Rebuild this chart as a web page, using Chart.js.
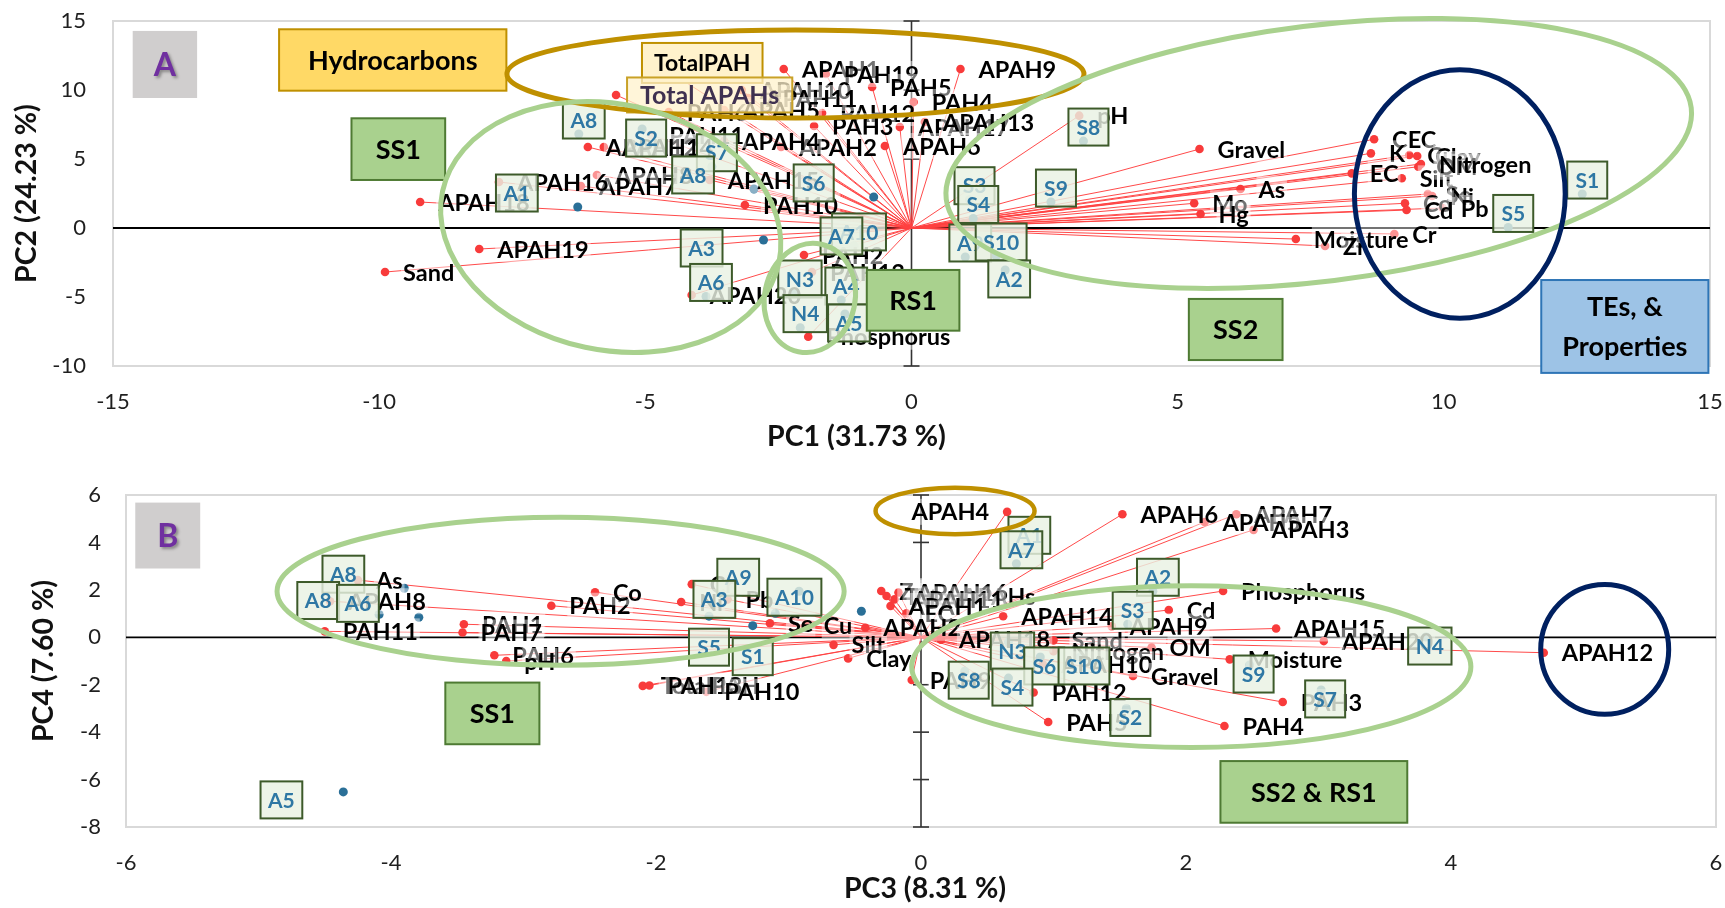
<!DOCTYPE html>
<html>
<head>
<meta charset="utf-8">
<title>PCA biplots</title>
<script src="https://cdn.jsdelivr.net/npm/chart.js@4.4.1/dist/chart.umd.min.js"></script>
<style>
    body { margin: 0; background: #fff; width: 1725px; height: 908px; overflow: hidden; position: relative; }
    .panel { position: absolute; left: 0; }
</style>
</head>
<body>
<div class="panel" style="top:0"><canvas id="pcaA" width="1725" height="450"></canvas></div>
<div class="panel" style="top:450px"><canvas id="pcaB" width="1725" height="458"></canvas></div>
<script>
// ---- Panel A : PC1 vs PC2 ----
const varNamesA = ["TotalPAH", "Total APAHs", "APAH1", "PAH19", "PAH5", "PAH4", "APAH9", "PAH12", "PAH3",
    "APAH17", "APAH13", "APAH6", "APAH2", "APAH4", "PAH11", "PAH6", "APAH12", "APAH14", "APAH8", "APAH7",
    "APAH16", "APAH18", "APAH19", "Sand", "PAH10", "APAH15", "PAH2", "APAH20", "Phosphorus", "PAH13",
    "APAH10", "APAH11", "APAH5", "pH", "Gravel", "As", "Mo", "Hg", "Moisture", "Zr", "Cr", "CEC", "K", "EC",
    "Silt", "Cu", "Clay", "OM", "Nitrogen", "Se", "Ni", "Co", "Cd", "Pb"];
const varPC1 = [-4.80, -5.55, -2.40, -1.61, -0.74, 0.04, 0.92, -1.68, -1.83,
    -0.22, 0.25, -0.50, -2.45, -3.52, -4.89, -4.56, -6.08, -5.78, -5.91, -6.21,
    -7.75, -9.23, -8.12, -9.89, -3.13, -3.79, -2.02, -4.13, -1.94, -1.87,
    -3.19, -3.07, -3.52, 3.15, 5.41, 6.18, 5.31, 5.43, 7.22, 7.77, 9.07, 8.69, 8.63, 8.27,
    9.21, 9.35, 9.50, 9.52, 9.57, 9.70, 9.78, 9.27, 9.30, 9.98];
const varPC2 = [11.96, 9.64, 11.52, 11.16, 10.22, 9.13, 11.52, 8.33, 7.39,
    7.32, 7.68, 5.94, 5.87, 6.30, 6.74, 8.41, 5.87, 5.87, 3.84, 3.04,
    3.33, 1.88, -1.52, -3.19, 1.67, 3.48, -1.96, -4.86, -7.88, -3.19,
    10.00, 9.42, 8.55, 8.14, 5.72, 2.83, 1.79, 1.01, -0.80, -1.30, -0.43, 6.43, 5.41, 3.96,
    3.60, 5.29, 5.22, 4.44, 4.64, 2.46, 2.32, 1.79, 1.30, 1.45];

const sampleNamesA = ["A1", "A8", "S2", "S7", "A8", "A3", "A6", "S6", "A4", "A5", "N3", "N4", "A10", "A7",
    "S3", "S4", "A9", "S10", "A2", "S9", "S8", "S5", "S1"];
const samplePC1 = [-6.27, -6.25, -5.06, -3.75, -2.96, -2.78, -3.86, -0.71, -1.32, -1.25, -2.19, -2.09, -1.08, -1.41,
    1.09, 1.16, 1.01, 1.59, 1.76, 2.62, 3.23, 11.21, 12.60];
const samplePC2 = [1.52, 6.81, 7.17, 4.44, 2.83, -0.87, -4.96, 2.25, -5.22, -6.23, -4.71, -7.22, -1.30, -1.59,
    2.05, 0.69, -2.10, -2.03, -3.04, 1.88, 6.30, 0.04, 2.46];
// where each sample's label box sits relative to its point (like Excel's label position)
const labelPlaceA = ["L", "T", "C", "T", "L", "LB", "T", "L", "T", "C", "T", "T", "T", "T",
    "T", "T", "T", "T", "C", "T", "T", "T", "T"];

const ticksPC1 = [-15, -10, -5, 0, 5, 10, 15];
const ticksPC2 = [-10, -5, 0, 5, 10, 15];

// ---- Panel B : PC3 vs PC4 ----
const varNamesB = ["As", "APAH8", "PAH11", "PAH1", "PAH7", "PAH6", "pH", "PAH2", "Co", "TotalPAH", "PAH13",
    "PAH10", "Cr", "Ni", "Pb", "Se", "Cu", "Silt", "Clay", "PAH9", "Zn", "Total APAHs", "APAH16", "APAH11",
    "APAH1", "EC", "APAH2", "APAH4", "APAH6", "APAH7", "APAH5", "APAH3", "Phosphorus", "Cd", "APAH9",
    "APAH14", "APAH15", "APAH20", "APAH12", "APAH18", "Sand", "Nitrogen", "OM", "APAH10", "Moisture",
    "Gravel", "PAH12", "PAH5", "PAH3", "PAH4"];
const varPC3 = [-4.25, -4.46, -4.50, -3.45, -3.46, -3.22, -3.13, -2.79, -2.46, -2.10, -2.05,
    -1.62, -1.73, -1.81, -1.46, -1.14, -0.87, -0.66, -0.55, -0.07, -0.30, -0.26, -0.17, -0.20,
    -0.23, -0.11, -0.42, 0.65, 1.52, 2.38, 2.14, 2.51, 2.28, 1.87, 1.44,
    0.62, 2.68, 3.04, 4.70, 0.15, 1.00, 1.00, 1.74, 0.92, 2.33,
    1.60, 0.85, 0.96, 2.73, 2.29];
const varPC4 = [2.41, 1.52, 0.25, 0.55, 0.20, -0.76, -1.00, 1.33, 1.90, -2.05, -2.03,
    -2.30, 2.24, 1.49, 1.60, 0.59, 0.51, -0.32, -0.89, -1.80, 1.95, 1.74, 1.89, 1.60,
    1.32, 1.01, 0.40, 5.29, 5.19, 5.19, 4.86, 4.53, 1.95, 1.15, 0.46,
    0.89, 0.37, -0.16, -0.65, -0.10, -0.13, -0.59, -0.43, -1.14, -0.93,
    -1.63, -2.33, -3.57, -2.73, -3.74];
const leftLabelsB = ["APAH4"];

const sampleNamesB = ["A8", "A8", "A6", "A5", "A9", "A3", "A10", "S5", "S1", "A1", "A7", "A2", "S3",
    "N3", "S6", "S10", "S8", "S4", "S2", "S9", "S7", "N4"];
const samplePC3 = [-3.90, -4.09, -3.79, -4.36, -0.92, -1.10, -0.45, -1.60, -1.27, 0.78, 0.72, 1.75, 1.56,
    0.66, 0.90, 1.20, 0.33, 0.66, 1.55, 2.48, 3.02, 3.81];
const samplePC4 = [2.07, 0.96, 0.84, -6.52, 1.94, 1.01, 1.10, 0.89, 0.49, 3.71, 3.10, 1.94, 0.55,
    -0.20, -0.83, -0.83, -1.43, -1.72, -3.00, -1.17, -2.22, 0.01];
const labelPlaceB = ["L", "L", "L", "LB", "L", "L", "L", "B", "B", "T", "T", "T", "T",
    "C", "C", "C", "C", "C", "C", "C", "C", "C"];

const ticksPC3 = [-6, -4, -2, 0, 2, 4, 6];
const ticksPC4 = [-8, -6, -4, -2, 0, 2, 4, 6];

// colours
const RED_PT = "#F83B3B";
const RED_LINE = "rgba(255,64,64,0.95)";
const SAMPLE_DOT = "#2A6F97";
const GOLD = "#BF9000", GREEN = "#A9D18E", NAVY = "#002060";
const FONT = "Lato";

function seg(ctx, x1, y1, x2, y2) {
    ctx.beginPath();
    ctx.moveTo(x1, y1);
    ctx.lineTo(x2, y2);
    ctx.stroke();
}

function makeBiplotPlugin(cfg) {
    return {
        id: "biplot",
        beforeDatasetsDraw(chart) {
            const {ctx, chartArea: a, scales: {x, y}} = chart;
            const x0 = x.getPixelForValue(0), y0 = y.getPixelForValue(0);
            ctx.save();
            // plot frame
            ctx.strokeStyle = "#D9D9D9";
            ctx.lineWidth = 2;
            ctx.strokeRect(a.left, a.top, a.right - a.left, a.bottom - a.top);
            // axes crossing at zero
            ctx.strokeStyle = "#000";
            ctx.lineWidth = 1.8;
            seg(ctx, a.left, y0, a.right, y0);
            ctx.strokeStyle = "#333";
            ctx.lineWidth = 1.6;
            seg(ctx, x0, a.top, x0, a.bottom);
            cfg.yTicks.forEach(v => {
                const p = y.getPixelForValue(v);
                seg(ctx, x0 - 8, p, x0 + 8, p);
            });
            // loading vectors
            ctx.strokeStyle = RED_LINE;
            ctx.lineWidth = 1;
            cfg.varX.forEach((v, i) => seg(ctx, x0, y0, x.getPixelForValue(v), y.getPixelForValue(cfg.varY[i])));
            ctx.restore();
        },
        afterDatasetsDraw(chart) {
            const {ctx, chartArea: a, scales: {x, y}} = chart;
            ctx.save();
            ctx.textBaseline = "middle";

            // variable labels (plain ones first, boxed ones on top)
            const boxedLater = [];
            cfg.varNames.forEach((name, i) => {
                const px = x.getPixelForValue(cfg.varX[i]);
                const py = y.getPixelForValue(cfg.varY[i]);
                if (cfg.boxed[name]) {
                    boxedLater.push([name, px, py]);
                    return;
                }
                ctx.font = "bold 23.5px " + FONT;
                const w = ctx.measureText(name).width;
                const tx = cfg.leftLabels.includes(name) ? px - 18 - w : px + 18;
                ctx.fillStyle = "rgba(255,255,255,0.45)";
                ctx.fillRect(tx - 2, py - 13, w + 4, 26);
                ctx.fillStyle = "#000";
                ctx.textAlign = "left";
                ctx.fillText(name, tx, py + 1);
            });
            boxedLater.forEach(([name, px, py]) => {
                const boxed = cfg.boxed[name];
                ctx.font = boxed.font;
                const w = ctx.measureText(name).width + boxed.pad * 2;
                const left = px + boxed.dx;
                ctx.fillStyle = boxed.fill;
                ctx.fillRect(left, py - boxed.h / 2, w, boxed.h);
                ctx.strokeStyle = boxed.stroke;
                ctx.lineWidth = 2;
                ctx.strokeRect(left, py - boxed.h / 2, w, boxed.h);
                ctx.fillStyle = boxed.color;
                ctx.textAlign = "left";
                ctx.fillText(name, left + boxed.pad, py + 1);
            });

            // sample label boxes
            cfg.sampleNames.forEach((name, i) => {
                const px = x.getPixelForValue(cfg.sampleX[i]);
                const py = y.getPixelForValue(cfg.sampleY[i]);
                ctx.font = "bold 21px " + FONT;
                const w = Math.max(40, ctx.measureText(name).width + 15), h = 37;
                let cx, cy;
                switch (cfg.place[i]) {
                    case "L": cx = px - 40 - w / 2; cy = py - 14; break;
                    case "LB": cx = px - 41 - w / 2; cy = py + 8; break;
                    case "C": cx = px + 4; cy = py + 9; break;
                    case "B": cx = px; cy = py + 31; break;
                    default: cx = px + 5; cy = py - 14;
                }
                ctx.fillStyle = "rgba(233,241,227,0.82)";
                ctx.fillRect(cx - w / 2, cy - h / 2, w, h);
                ctx.strokeStyle = "#3D5A2A";
                ctx.lineWidth = 2;
                ctx.strokeRect(cx - w / 2, cy - h / 2, w, h);
                ctx.fillStyle = "#2E77A4";
                ctx.textAlign = "center";
                ctx.fillText(name, cx, cy + 1);
            });

            // group boxes
            cfg.groups.forEach(g => {
                const l = x.getPixelForValue(g.x1), r = x.getPixelForValue(g.x2);
                const t = y.getPixelForValue(g.y1), b = y.getPixelForValue(g.y2);
                ctx.fillStyle = g.fill;
                ctx.fillRect(l, t, r - l, b - t);
                if (g.stroke) {
                    ctx.strokeStyle = g.stroke;
                    ctx.lineWidth = 2;
                    ctx.strokeRect(l, t, r - l, b - t);
                }
                ctx.font = "bold " + g.size + "px " + FONT;
                ctx.fillStyle = g.color || "#000";
                ctx.textAlign = "center";
                if (g.shadow) {
                    ctx.shadowColor = "rgba(0,0,0,0.35)";
                    ctx.shadowBlur = 3;
                    ctx.shadowOffsetX = 2;
                    ctx.shadowOffsetY = 2;
                }
                const n = g.lines.length, lh = g.size * 1.5;
                g.lines.forEach((txt, k) => {
                    ctx.fillText(txt, (l + r) / 2, (t + b) / 2 + (k - (n - 1) / 2) * lh + 1);
                });
                ctx.shadowColor = "transparent";
            });

            // ellipses
            cfg.ellipses.forEach(e => {
                const cx = x.getPixelForValue(e.cx), cy = y.getPixelForValue(e.cy);
                const rx = Math.abs(x.getPixelForValue(e.cx + e.rx) - cx);
                const ry = Math.abs(y.getPixelForValue(e.cy + e.ry) - cy);
                ctx.beginPath();
                ctx.ellipse(cx, cy, rx, ry, (e.rot || 0) * Math.PI / 180, 0, Math.PI * 2);
                ctx.strokeStyle = e.color;
                ctx.lineWidth = e.lw;
                ctx.stroke();
            });

            // axis titles
            ctx.font = "bold 28.5px " + FONT;
            ctx.fillStyle = "#111";
            ctx.textAlign = "center";
            ctx.fillText(cfg.xTitle, (a.left + a.right) / 2 + cfg.xTitleDx, a.bottom + cfg.xTitleDy);
            ctx.translate(a.left - cfg.yTitleDx, (a.top + a.bottom) / 2);
            ctx.rotate(-Math.PI / 2);
            ctx.fillText(cfg.yTitle, 0, 0);
            ctx.restore();
        }
    };
}

function renderBiplot(canvasId, cfg) {
    const ctx = document.getElementById(canvasId).getContext("2d");
    new Chart(ctx, {
        type: "scatter",
        data: {
            datasets: [
                {
                    data: cfg.varX.map((v, i) => ({x: v, y: cfg.varY[i]})),
                    pointRadius: 4.3,
                    pointBackgroundColor: RED_PT,
                    pointBorderWidth: 0,
                },
                {
                    data: cfg.sampleX.map((v, i) => ({x: v, y: cfg.sampleY[i]})),
                    pointRadius: 4.5,
                    pointBackgroundColor: SAMPLE_DOT,
                    pointBorderWidth: 0,
                },
            ],
        },
        options: {
            responsive: false,
            animation: false,
            devicePixelRatio: 1,
            layout: {padding: {top: cfg.padTop, right: cfg.padRight, left: 0, bottom: 0}},
            plugins: {legend: {display: false}, tooltip: {enabled: false}},
            scales: {
                x: {
                    type: "linear",
                    min: cfg.xTicks[0],
                    max: cfg.xTicks[cfg.xTicks.length - 1],
                    afterBuildTicks: s => { s.ticks = cfg.xTicks.map(v => ({value: v})); },
                    afterFit: s => {
                        s.height = cfg.xHeight;
                        s.paddingLeft = 0;
                        s.paddingRight = 0;
                    },
                    grid: {display: false, drawTicks: false},
                    border: {display: false},
                    ticks: {padding: 23, color: "#1f1f1f", font: {family: FONT, size: 22}},
                },
                y: {
                    type: "linear",
                    min: cfg.yTicks[0],
                    max: cfg.yTicks[cfg.yTicks.length - 1],
                    afterBuildTicks: s => { s.ticks = cfg.yTicks.map(v => ({value: v})); },
                    afterFit: s => {
                        s.width = cfg.yWidth;
                        s.paddingTop = 0;
                        s.paddingBottom = 0;
                    },
                    grid: {display: false, drawTicks: false},
                    border: {display: false},
                    ticks: {padding: cfg.yPad, color: "#1f1f1f", font: {family: FONT, size: 22}},
                },
            },
        },
        plugins: [makeBiplotPlugin(cfg)],
    });
}

renderBiplot("pcaA", {
    varNames: varNamesA, varX: varPC1, varY: varPC2,
    sampleNames: sampleNamesA, sampleX: samplePC1, sampleY: samplePC2, place: labelPlaceA,
    xTicks: ticksPC1, yTicks: ticksPC2,
    leftLabels: [],
    boxed: {
        "TotalPAH": {font: "bold 23px " + FONT, pad: 12, h: 40, dx: -14, fill: "#FFF2CC", stroke: GOLD, color: "#000"},
        "Total APAHs": {font: "bold 25px " + FONT, pad: 13, h: 35, dx: 11, fill: "rgba(255,242,204,0.75)", stroke: "#C9A227", color: "#3F3151"},
    },
    groups: [
        {x1: -14.63, x2: -13.42, y1: 14.28, y2: 9.42, fill: "#D0CECE", lines: ["A"], color: "#7030A0", size: 32, shadow: true},
        {x1: -11.88, x2: -7.61, y1: 14.4, y2: 9.95, fill: "#FFD966", stroke: GOLD, lines: ["Hydrocarbons"], size: 27},
        {x1: -10.52, x2: -8.76, y1: 7.95, y2: 3.48, fill: GREEN, stroke: "#4E7A33", lines: ["SS1"], size: 27},
        {x1: -0.84, x2: 0.90, y1: -3.04, y2: -7.44, fill: GREEN, stroke: "#4E7A33", lines: ["RS1"], size: 27},
        {x1: 5.21, x2: 6.97, y1: -5.14, y2: -9.57, fill: GREEN, stroke: "#4E7A33", lines: ["SS2"], size: 27},
        {x1: 11.83, x2: 14.97, y1: -3.77, y2: -10.5, fill: "#9DC3E6", stroke: "#2E75B6", lines: ["TEs, &", "Properties"], size: 27},
    ],
    ellipses: [
        {cx: -2.18, cy: 11.16, rx: 5.42, ry: 3.19, color: GOLD, lw: 5},
        {cx: -5.65, cy: 0.07, rx: 3.23, ry: 8.91, rot: 12, color: GREEN, lw: 5},
        {cx: -1.91, cy: -5.07, rx: 0.85, ry: 3.98, rot: 12, color: GREEN, lw: 5},
        {cx: 7.65, cy: 5.40, rx: 7.05, ry: 9.27, rot: -7, color: GREEN, lw: 5},
        {cx: 10.30, cy: 2.46, rx: 1.98, ry: 9.00, color: NAVY, lw: 5},
    ],
    xTitle: "PC1 (31.73 %)", yTitle: "PC2 (24.23 %)",
    xTitleDx: -55, xTitleDy: 71, yTitleDx: 86,
    padTop: 21, padRight: 15, yWidth: 113, xHeight: 84, yPad: 27,
});

renderBiplot("pcaB", {
    varNames: varNamesB, varX: varPC3, varY: varPC4,
    sampleNames: sampleNamesB, sampleX: samplePC3, sampleY: samplePC4, place: labelPlaceB,
    xTicks: ticksPC3, yTicks: ticksPC4,
    leftLabels: leftLabelsB,
    boxed: {},
    groups: [
        {x1: -5.93, x2: -5.44, y1: 5.68, y2: 2.90, fill: "#D0CECE", lines: ["B"], color: "#7030A0", size: 32, shadow: true},
        {x1: -3.59, x2: -2.88, y1: -1.91, y2: -4.51, fill: GREEN, stroke: "#4E7A33", lines: ["SS1"], size: 27},
        {x1: 2.26, x2: 3.67, y1: -5.22, y2: -7.82, fill: GREEN, stroke: "#4E7A33", lines: ["SS2 & RS1"], size: 27},
    ],
    ellipses: [
        {cx: 0.257, cy: 5.33, rx: 0.60, ry: 0.98, color: GOLD, lw: 4.5},
        {cx: -2.72, cy: 1.94, rx: 2.14, ry: 3.12, color: GREEN, lw: 5},
        {cx: 2.04, cy: -1.24, rx: 2.11, ry: 3.41, color: GREEN, lw: 5},
        {cx: 5.16, cy: -0.51, rx: 0.483, ry: 2.74, color: NAVY, lw: 5},
    ],
    xTitle: "PC3 (8.31 %)", yTitle: "PC4 (7.60 %)",
    xTitleDx: 4, xTitleDy: 62, yTitleDx: 82,
    padTop: 45, padRight: 9, yWidth: 126, xHeight: 81, yPad: 25,
});
</script>
</body>
</html>
